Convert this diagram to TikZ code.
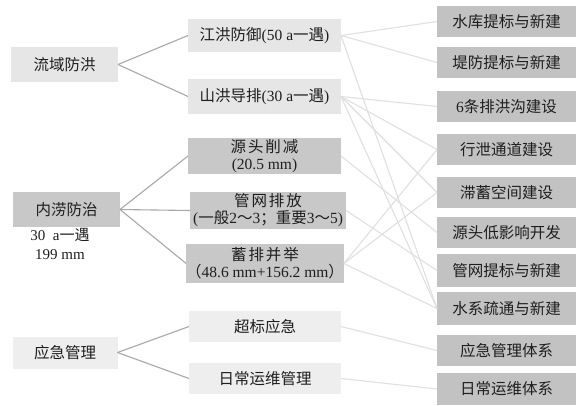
\documentclass[tikz,border=0pt]{standalone}
\usepackage{fontspec}
\setmainfont{Noto Sans CJK SC}
\newfontfamily\lat{Liberation Serif}
\newfontfamily\cjkls{Noto Sans CJK SC}[LetterSpace=12]
\definecolor{txt}{HTML}{1E1E1E}
\definecolor{lightfill}{HTML}{E6E6E6}
\definecolor{paleFill}{HTML}{EEEEEE}
\definecolor{darkfill}{HTML}{C8C8C8}
\definecolor{rightfill}{HTML}{C2C2C2}
\definecolor{lcol}{HTML}{A8A8A8}
\definecolor{rcol}{HTML}{E0E0E0}
\begin{document}
\begin{tikzpicture}[x=1pt,y=-1pt,
  box/.style={inner sep=0pt, outer sep=0pt, align=center, text=txt,
              font=\fontsize{15.5}{17}\selectfont},
  lightbox/.style={box, fill=lightfill},
  palebox/.style={box, fill=paleFill},
  darkbox/.style={box, fill=darkfill},
  rbox/.style={box, fill=rightfill, minimum width=139pt},
  lline/.style={draw=lcol, line width=1.1pt},
  rline/.style={draw=rcol, line width=1.1pt},
  note/.style={inner sep=0pt, text=txt, font=\fontsize{15}{17}\selectfont}
]
\useasboundingbox (0,0) rectangle (577,405);
\fill[white] (0,0) rectangle (577,405);

% left column
\node[lightbox, minimum width=107pt, minimum height=35pt] (L1) at (64.5,64.5) {流域防洪};
\node[darkbox, minimum width=107pt, minimum height=35pt] (L2) at (66.5,209.5) {内涝防治};
\node[palebox, minimum width=105pt, minimum height=32pt] (L3) at (65,352.5) {应急管理};
\node[note] (N1) at (60,235) {\lat 30\ \ a\fontspec{Noto Sans CJK SC}一遇};
\node[note] (N2) at (60,255) {\lat 199 mm};

% middle column
\node[lightbox, minimum width=153pt, minimum height=33pt] (M1) at (264.5,35.5) {江洪防御{\lat (50 a}一遇{\lat )}};
\node[lightbox, minimum width=153pt, minimum height=35pt] (M2) at (264.5,96.5) {山洪导排{\lat (30 a}一遇{\lat )}};
\node[darkbox, minimum width=153pt, minimum height=36pt] (M3) at (264.5,156) {{\cjkls 源头削减}\\{\lat (20.5 mm)}};
\node[darkbox, minimum width=156pt, minimum height=37pt] (M4) at (268,210.5) {{\cjkls 管网排放}\\{\lat (}一般{\lat 2}～{\lat 3}；重要{\lat 3}～{\lat 5)}};
\node[darkbox, minimum width=152pt, minimum height=39pt] (M5) at (265,263.5) {{\cjkls 蓄排并举}\\（{\lat 48.6 mm+156.2 mm}）};
\node[palebox, minimum width=152pt, minimum height=31pt] (M6) at (265,326.5) {超标应急};
\node[palebox, minimum width=152pt, minimum height=31pt] (M7) at (265,378.5) {日常运维管理};

% right column
\node[rbox, minimum height=31pt] (R1) at (506.5,21.5) {水库提标与新建};
\node[rbox, minimum height=31pt] (R2) at (506.5,62.5) {堤防提标与新建};
\node[rbox, minimum height=31pt] (R3) at (506.5,106.5) {{\lat 6}条排洪沟建设};
\node[rbox, minimum height=31pt] (R4) at (506.5,149.5) {行泄通道建设};
\node[rbox, minimum height=31pt] (R5) at (506.5,192.5) {滞蓄空间建设};
\node[rbox, minimum height=31pt] (R6) at (506.5,232.5) {源头低影响开发};
\node[rbox, minimum height=33pt] (R7) at (506.5,270.5) {管网提标与新建};
\node[rbox, minimum height=33pt] (R8) at (506.5,308.5) {水系疏通与新建};
\node[rbox, minimum height=31pt] (R9) at (506.5,350.5) {应急管理体系};
\node[rbox, minimum height=32pt] (R10) at (506.5,389) {日常运维体系};

% left connectors
\draw[lline] (L1.east) -- (M1.west);
\draw[lline] (L1.east) -- (M2.west);
\draw[lline] (L2.east) -- (M3.west);
\draw[lline] (L2.east) -- (M4.west);
\draw[lline] (L2.east) -- (M5.west);
\draw[lline] (L3.east) -- (M6.west);
\draw[lline] (L3.east) -- (M7.west);

% right connectors
\draw[rline] (M1.east) -- (R1.west);
\draw[rline] (M1.east) -- (R2.west);
\draw[rline] (M1.east) -- (R8.west);
\draw[rline] (M2.east) -- (R3.west);
\draw[rline] (M2.east) -- (R4.west);
\draw[rline] (M2.east) -- (R5.west);
\draw[rline] (M2.east) -- (R8.west);
\draw[rline] (M3.east) -- (R6.west);
\draw[rline] (M4.east) -- (R7.west);
\draw[rline] (M5.east) -- (R4.west);
\draw[rline] (M5.east) -- (R5.west);
\draw[rline] (M5.east) -- (R8.west);
\draw[rline] (M6.east) -- (R9.west);
\draw[rline] (M7.east) -- (R10.west);
\end{tikzpicture}
\end{document}
